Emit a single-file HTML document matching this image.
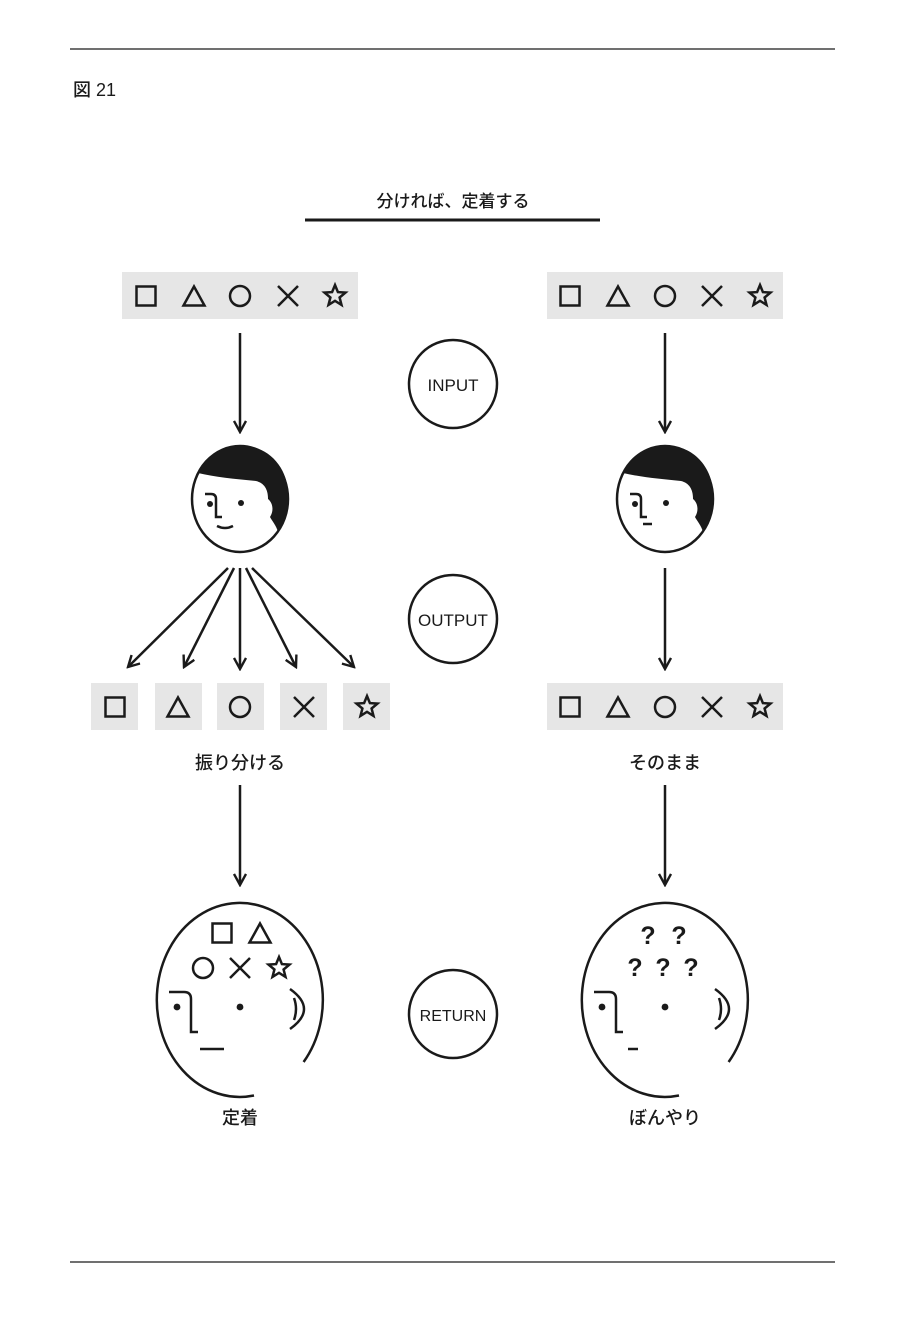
<!DOCTYPE html>
<html><head><meta charset="utf-8"><style>
body{margin:0;background:#fff}
svg{display:block}
text{font-family:"Liberation Sans","Noto Sans CJK JP",sans-serif;fill:#1a1a1a;font-weight:500}
text.q{font-weight:bold}
</style></head><body>
<svg width="919" height="1327" viewBox="0 0 919 1327" xmlns="http://www.w3.org/2000/svg">
<defs>
<marker id="ah" viewBox="0 0 14 14" refX="12" refY="7" markerWidth="14" markerHeight="14" markerUnits="userSpaceOnUse" orient="auto">
<path d="M1 1 L12 7 L1 13" fill="none" stroke="#1a1a1a" stroke-width="2.4"/>
</marker>
<g id="sq"><rect x="-9.5" y="-9.5" width="19" height="19" fill="none" stroke="#1a1a1a" stroke-width="2.5"/></g>
<g id="tr"><path d="M0 -9.5 L10.5 9.5 L-10.5 9.5 Z" fill="none" stroke="#1a1a1a" stroke-width="2.5" stroke-linejoin="miter"/></g>
<g id="ci"><circle r="10" fill="none" stroke="#1a1a1a" stroke-width="2.5"/></g>
<g id="xx"><path d="M-10 -10 L10 10 M10 -10 L-10 10" stroke="#1a1a1a" stroke-width="2.5"/></g>
<g id="st"><path d="M0,-11 L2.9,-3.9 L10.5,-3.4 L4.6,1.5 L6.5,8.9 L0,4.8 L-6.5,8.9 L-4.6,1.5 L-10.5,-3.4 L-2.9,-3.9 Z" fill="none" stroke="#1a1a1a" stroke-width="2.5" stroke-linejoin="miter"/></g>
<g id="head">
<ellipse cx="0" cy="0" rx="48" ry="53" fill="none" stroke="#1a1a1a" stroke-width="2.5"/>
<path d="M-42,-26 C-30,-48 -10,-54 5,-53 C30,-52 48,-30 48,-5 C48,12 44,25 38,33 C36,26 32,22 30,18 C34,12 33,4 28,0 C28,-10 24,-16 16,-18 C-5,-20 -25,-22 -42,-26 Z" fill="#1a1a1a"/>
<path d="M-35,-5 H-29 Q-24,-5 -24,0 V18 H-18" fill="none" stroke="#1a1a1a" stroke-width="2.5"/>
<circle cx="-30" cy="5" r="3" fill="#1a1a1a"/>
<circle cx="1" cy="4" r="3" fill="#1a1a1a"/>
</g>
</defs>

<line x1="70" y1="49" x2="835" y2="49" stroke="#1a1a1a" stroke-width="1.2"/>
<line x1="70" y1="1262" x2="835" y2="1262" stroke="#1a1a1a" stroke-width="1.2"/>
<text x="73" y="96" font-size="18">図 21</text>

<text x="453" y="207" font-size="17" text-anchor="middle">分ければ、定着する</text>
<line x1="305" y1="220" x2="600" y2="220" stroke="#1a1a1a" stroke-width="3"/>

<rect x="122" y="272" width="236" height="47" fill="#e6e6e6"/>
<rect x="547" y="272" width="236" height="47" fill="#e6e6e6"/>
<use href="#sq" x="146" y="296"/><use href="#tr" x="194" y="296"/><use href="#ci" x="240" y="296"/><use href="#xx" x="288" y="296"/><use href="#st" x="335" y="296"/>
<use href="#sq" x="570" y="296"/><use href="#tr" x="618" y="296"/><use href="#ci" x="665" y="296"/><use href="#xx" x="712" y="296"/><use href="#st" x="760" y="296"/>

<g fill="none" stroke="#1a1a1a" stroke-width="2.5">
<circle cx="453" cy="384" r="44"/><circle cx="453" cy="619" r="44"/><circle cx="453" cy="1014" r="44"/>
</g>
<text x="453" y="391" font-size="17" text-anchor="middle">INPUT</text>
<text x="453" y="626" font-size="17" text-anchor="middle">OUTPUT</text>
<text x="453" y="1021" font-size="16" text-anchor="middle">RETURN</text>

<g stroke="#1a1a1a" stroke-width="2.5" marker-end="url(#ah)">
<line x1="240" y1="333" x2="240" y2="432"/>
<line x1="665" y1="333" x2="665" y2="432"/>
<line x1="228" y1="568" x2="128" y2="667"/>
<line x1="234" y1="568" x2="184" y2="667"/>
<line x1="240" y1="568" x2="240" y2="669"/>
<line x1="246" y1="568" x2="296" y2="667"/>
<line x1="252" y1="568" x2="354" y2="667"/>
<line x1="665" y1="568" x2="665" y2="669"/>
<line x1="240" y1="785" x2="240" y2="885"/>
<line x1="665" y1="785" x2="665" y2="885"/>
</g>

<use href="#head" x="240" y="499"/>
<path d="M217 526 Q225 530 233 526" fill="none" stroke="#1a1a1a" stroke-width="2.5"/>
<use href="#head" x="665" y="499"/>
<line x1="643" y1="524" x2="652" y2="524" stroke="#1a1a1a" stroke-width="2.5"/>

<rect x="91" y="683" width="47" height="47" fill="#e6e6e6"/>
<rect x="155" y="683" width="47" height="47" fill="#e6e6e6"/>
<rect x="217" y="683" width="47" height="47" fill="#e6e6e6"/>
<rect x="280" y="683" width="47" height="47" fill="#e6e6e6"/>
<rect x="343" y="683" width="47" height="47" fill="#e6e6e6"/>
<use href="#sq" x="115" y="707"/><use href="#tr" x="178" y="707"/><use href="#ci" x="240" y="707"/><use href="#xx" x="304" y="707"/><use href="#st" x="367" y="707"/>
<rect x="547" y="683" width="236" height="47" fill="#e6e6e6"/>
<use href="#sq" x="570" y="707"/><use href="#tr" x="618" y="707"/><use href="#ci" x="665" y="707"/><use href="#xx" x="712" y="707"/><use href="#st" x="760" y="707"/>

<text x="240" y="769" font-size="18" text-anchor="middle">振り分ける</text>
<text x="665" y="769" font-size="18" text-anchor="middle">そのまま</text>

<g fill="none" stroke="#1a1a1a" stroke-width="2.5">
<path d="M254 1095.5 A83 97 0 1 1 303.6 1062"/>
<path d="M679 1095.5 A83 97 0 1 1 728.6 1062"/>
<path d="M169 992 H184 Q191 992 191 999 V1032 H198"/>
<path d="M594 992 H609 Q616 992 616 999 V1032 H623"/>
<path d="M290 989 Q318 1009 290 1029 M294 998 Q298 1009 294 1020"/>
<path d="M715 989 Q743 1009 715 1029 M719 998 Q723 1009 719 1020"/>
<path d="M200 1049 H224"/>
<path d="M628 1049 H638"/>
</g>
<g fill="#1a1a1a">
<circle cx="177" cy="1007" r="3.4"/><circle cx="240" cy="1007" r="3.4"/>
<circle cx="602" cy="1007" r="3.4"/><circle cx="665" cy="1007" r="3.4"/>
</g>
<use href="#sq" x="222" y="933"/><use href="#tr" x="260" y="933"/>
<use href="#ci" x="203" y="968"/><use href="#xx" x="240" y="968"/><use href="#st" x="279" y="968"/>
<g font-size="25" text-anchor="middle">
<text class="q" x="648" y="944">?</text><text class="q" x="679" y="944">?</text>
<text class="q" x="635" y="976">?</text><text class="q" x="663" y="976">?</text><text class="q" x="691" y="976">?</text>
</g>

<text x="240" y="1124" font-size="18" text-anchor="middle">定着</text>
<text x="665" y="1124" font-size="18" text-anchor="middle">ぼんやり</text>
</svg>
</body></html>
